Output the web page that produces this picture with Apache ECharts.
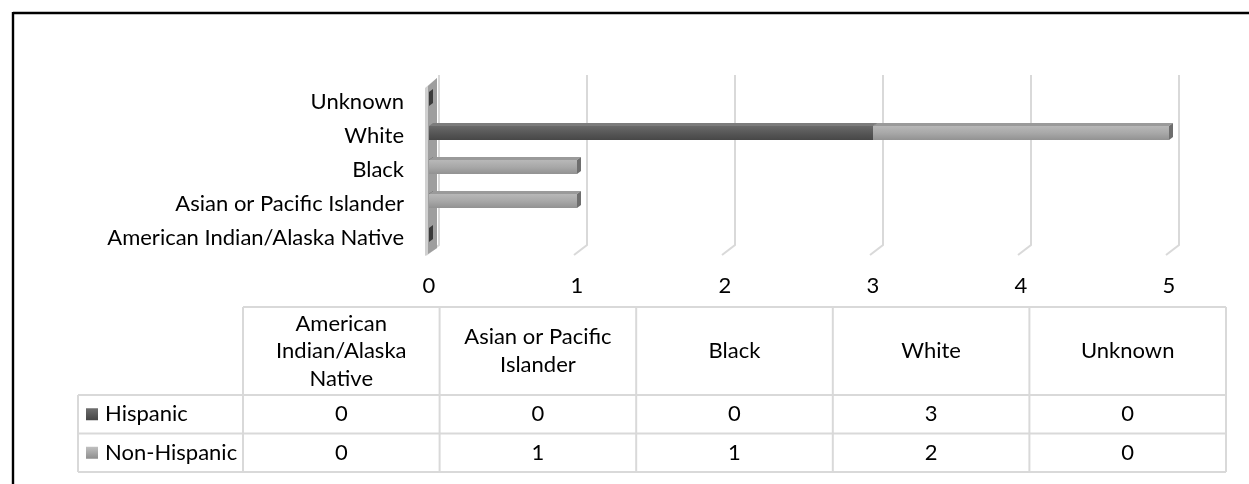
<!DOCTYPE html>
<html>
<head>
<meta charset="utf-8">
<script src="https://cdn.jsdelivr.net/npm/echarts@6/dist/echarts.min.js"></script>
<style>
html,body{margin:0;padding:0;background:#fff;}
#c{width:1249px;height:484px;}
</style>
</head>
<body>
<div id="c"></div>
<script>
const categories = ['American Indian/Alaska Native', 'Asian or Pacific Islander', 'Black', 'White', 'Unknown'];
const headerLabels = ['American\nIndian/Alaska\nNative', 'Asian or Pacific\nIslander', 'Black', 'White', 'Unknown'];
const seriesNames = ['Hispanic', 'Non-Hispanic'];
const hispanic = [0, 0, 0, 3, 0];
const nonHispanic = [0, 1, 1, 2, 0];
const xTicks = [0, 1, 2, 3, 4, 5];

const FONT = 'Lato';
const FS = 22;

const styles = {
  'Hispanic': {
    body: {type: 'linear', x: 0, y: 0, x2: 0, y2: 1, colorStops: [{offset: 0, color: '#6a6a6a'}, {offset: 0.5, color: '#575757'}, {offset: 1, color: '#474747'}]},
    top: '#7c7c7c', cap: '#3a3a3a',
    key: {type: 'linear', x: 0, y: 0, x2: 0, y2: 1, colorStops: [{offset: 0, color: '#6e6e6e'}, {offset: 1, color: '#454545'}]}
  },
  'Non-Hispanic': {
    body: {type: 'linear', x: 0, y: 0, x2: 0, y2: 1, colorStops: [{offset: 0, color: '#b8b8b8'}, {offset: 0.5, color: '#a8a8a8'}, {offset: 1, color: '#929292'}]},
    top: '#9a9a9a', cap: '#6e6e6e',
    key: {type: 'linear', x: 0, y: 0, x2: 0, y2: 1, colorStops: [{offset: 0, color: '#c0c0c0'}, {offset: 1, color: '#8e8e8e'}]}
  }
};

const seriesValues = [hispanic, nonHispanic];

function barData(idx) {
  return categories.map((c, i) => {
    let base = 0;
    for (let k = 0; k < idx; k++) base += seriesValues[k][i];
    return [base, base + seriesValues[idx][i], i];
  });
}

function barRender(name) {
  const st = styles[name];
  return function (params, api) {
    const v0 = api.value(0), v1 = api.value(1);
    const s = api.coord([v0, api.value(2)]);
    const e = api.coord([v1, api.value(2)]);
    const x0 = s[0], x1 = e[0], cy = s[1];
    const children = [];
    if (v1 > v0) {
      children.push({type: 'rect', shape: {x: x0, y: cy - 10, width: x1 - x0, height: 14}, style: {fill: st.body}});
      children.push({type: 'polygon', shape: {points: [[x0, cy - 10], [x0 + 4, cy - 13], [x1 + 4, cy - 13], [x1, cy - 10]]}, style: {fill: st.top}});
      children.push({type: 'polygon', shape: {points: [[x1, cy - 10], [x1 + 4, cy - 13], [x1 + 4, cy + 1], [x1, cy + 4]]}, style: {fill: st.cap}});
    } else if (name === 'Hispanic') {
      children.push({type: 'polygon', shape: {points: [[x1, cy - 10], [x1 + 4, cy - 13], [x1 + 4, cy + 1], [x1, cy + 4]]}, style: {fill: st.cap}});
    }
    return {type: 'group', children: children};
  };
}

// table layout
const tblLeft = 243, colW = 196.6, keyLeft = 78;
const hdrTop = 307, hdrH = 88, rowH = 38.5;
const tblRight = tblLeft + colW * categories.length;
const lineCol = '#d9d9d9';
const graphics = [];
// outer chart border (top & left visible)
graphics.push({type: 'line', shape: {x1: 13, y1: 13, x2: 1249, y2: 13}, style: {stroke: '#000', lineWidth: 2.4}});
graphics.push({type: 'line', shape: {x1: 13, y1: 12, x2: 13, y2: 484}, style: {stroke: '#000', lineWidth: 2.4}});
// horizontal lines
graphics.push({type: 'line', shape: {x1: tblLeft, y1: hdrTop, x2: tblRight, y2: hdrTop}, style: {stroke: lineCol, lineWidth: 2}});
for (let r = 0; r <= seriesNames.length; r++) {
  const y = hdrTop + hdrH + r * rowH;
  graphics.push({type: 'line', shape: {x1: keyLeft, y1: y, x2: tblRight, y2: y}, style: {stroke: lineCol, lineWidth: 2}});
}
const tblBottom = hdrTop + hdrH + seriesNames.length * rowH;
graphics.push({type: 'line', shape: {x1: keyLeft, y1: hdrTop + hdrH, x2: keyLeft, y2: tblBottom}, style: {stroke: lineCol, lineWidth: 2}});
for (let c = 0; c <= categories.length; c++) {
  const x = tblLeft + c * colW;
  graphics.push({type: 'line', shape: {x1: x, y1: hdrTop, x2: x, y2: tblBottom}, style: {stroke: lineCol, lineWidth: 2}});
}
// header texts
headerLabels.forEach((c, i) => {
  graphics.push({type: 'text', x: tblLeft + (i + 0.5) * colW, y: hdrTop + hdrH / 2,
    style: {text: c, lineHeight: 27.5, align: 'center', verticalAlign: 'middle', fill: '#000', font: FS + 'px ' + FONT}});
});
// rows
seriesNames.forEach((n, r) => {
  const cy = hdrTop + hdrH + (r + 0.5) * rowH;
  graphics.push({type: 'rect', shape: {x: 86, y: cy - 6, width: 12, height: 12}, style: {fill: styles[n].key}});
  graphics.push({type: 'text', x: 105, y: cy, style: {text: n, align: 'left', verticalAlign: 'middle', fill: '#000', font: FS + 'px ' + FONT}});
  seriesValues[r].forEach((v, i) => {
    graphics.push({type: 'text', x: tblLeft + (i + 0.5) * colW, y: cy, style: {text: String(v), align: 'center', verticalAlign: 'middle', fill: '#000', font: FS + 'px ' + FONT}});
  });
});

const chart = echarts.init(document.getElementById('c'), null, {renderer: 'canvas'});
chart.setOption({
  animation: false,
  backgroundColor: '#fff',
  grid: {left: 429, right: 80, top: 85, height: 170, containLabel: false},
  xAxis: {
    type: 'value', min: xTicks[0], max: xTicks[xTicks.length - 1], interval: 1,
    axisLine: {show: false}, axisTick: {show: false}, splitLine: {show: false},
    axisLabel: {margin: 20, color: '#000', fontFamily: FONT, fontSize: FS}
  },
  yAxis: {
    type: 'category', data: categories,
    axisLine: {show: false}, axisTick: {show: false}, splitLine: {show: false},
    axisLabel: {margin: 25, color: '#000', fontFamily: FONT, fontSize: FS}
  },
  series: [
    {
      type: 'custom', name: 'gridlines', z: 1, silent: true,
      encode: {x: 0, y: 1},
      data: xTicks.map(v => [v, 0]),
      renderItem: function (params, api) {
        const x = api.coord([api.value(0), 0])[0];
        const cs = params.coordSys;
        const top = cs.y, bottom = cs.y + cs.height;
        return {type: 'polyline', shape: {points: [[x + 10, top - 10], [x + 10, bottom - 10], [x - 3, bottom]]},
          style: {stroke: '#d9d9d9', lineWidth: 2, fill: null}};
      }
    },
    {
      type: 'custom', name: 'wall', z: 2, silent: true,
      encode: {x: 0, y: 1},
      data: [[xTicks[0], 0]],
      renderItem: function (params, api) {
        const x = api.coord([api.value(0), 0])[0];
        const cs = params.coordSys;
        const top = cs.y, bottom = cs.y + cs.height;
        return {type: 'group', children: [
          {type: 'polygon', shape: {points: [[x - 4, top + 3], [x + 8, top - 7], [x + 8, bottom - 7], [x - 4, bottom + 1]]}, style: {fill: '#d0d0d0'}},
          {type: 'polygon', shape: {points: [[x - 1, top + 1], [x + 8, top - 7], [x + 8, bottom - 7], [x - 1, bottom - 1]]}, style: {fill: '#9e9e9e'}}
        ]};
      }
    },
    {
      type: 'custom', name: seriesNames[0], z: 3,
      encode: {x: [0, 1], y: 2},
      data: barData(0),
      renderItem: barRender(seriesNames[0])
    },
    {
      type: 'custom', name: seriesNames[1], z: 4,
      encode: {x: [0, 1], y: 2},
      data: barData(1),
      renderItem: barRender(seriesNames[1])
    }
  ],
  graphic: graphics
});
</script>
</body>
</html>
